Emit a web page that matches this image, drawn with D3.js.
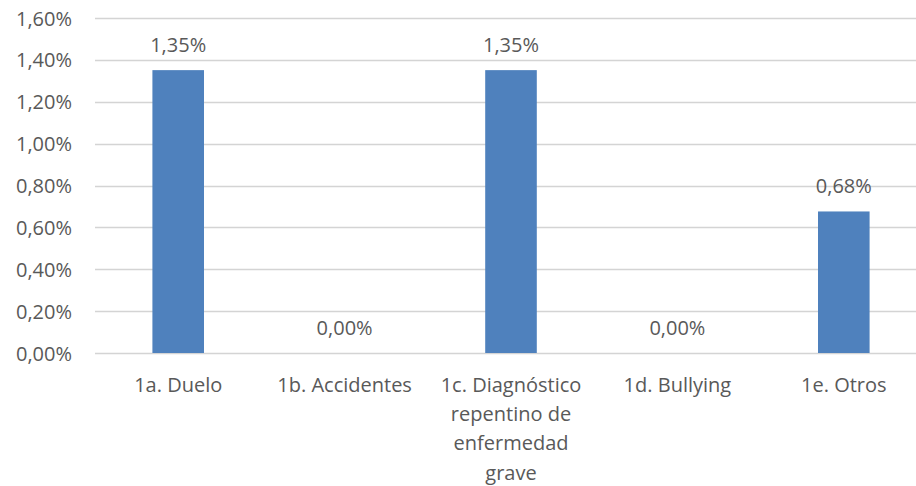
<!DOCTYPE html>
<html><head><meta charset="utf-8">
<script src="https://cdn.jsdelivr.net/npm/d3@7"></script>
<style>body{margin:0;background:#fff}svg{display:block}</style>
</head><body>
<svg id="c" width="916" height="486"></svg>
<script>
const categories = [["1a. Duelo"],["1b. Accidentes"],["1c. Diagnóstico","repentino de","enfermedad","grave"],["1d. Bullying"],["1e. Otros"]];
const values = [1.351, 0, 1.351, 0, 0.676];
const yTicks = [0,0.2,0.4,0.6,0.8,1.0,1.2,1.4,1.6];

const svg = d3.select("#c");
const font = "'Open Sans', sans-serif";
const fmt = v => d3.format(".2f")(v).replace(".", ",") + "%";
const x = d3.scaleBand().domain(d3.range(categories.length)).range([95, 927]).paddingInner(0.69).paddingOuter(0.345);
const y = d3.scaleLinear().domain([0,1.6]).range([353,18]);

svg.append("g").selectAll("line").data(yTicks).join("line")
  .attr("x1",95).attr("x2",927).attr("y1",d=>Math.round(y(d))+0.5).attr("y2",d=>Math.round(y(d))+0.5)
  .attr("stroke","#d4d4d4").attr("stroke-width",1.5);

const yAxis = d3.axisLeft(y).tickValues(yTicks).tickFormat(fmt).tickSize(0).tickPadding(0);
const ya = svg.append("g").attr("transform","translate(72,0)").call(yAxis);
ya.select(".domain").remove();
ya.selectAll("text").attr("font-family",font).attr("font-size",20).attr("fill","#595959").attr("dy","0.35em");

svg.append("g").selectAll("rect").data(values).join("rect")
  .attr("x",(d,i)=>x(i)).attr("width",x.bandwidth())
  .attr("y",d=>y(d)).attr("height",d=>y(0)-y(d)).attr("fill","#4f81bd");

svg.append("g").selectAll("text").data(values).join("text")
  .attr("x",(d,i)=>x(i)+x.bandwidth()/2).attr("y",d=>y(d)-18)
  .attr("text-anchor","middle").attr("font-family",font).attr("font-size",20).attr("fill","#595959")
  .text(d=>fmt(d));

const xAxis = d3.axisBottom(x).tickSize(0).tickFormat(()=>"");
const xa = svg.append("g").attr("transform","translate(0,353)").call(xAxis);
xa.select(".domain").remove();
xa.selectAll(".tick").each(function(i){
  const t = d3.select(this).append("text").attr("text-anchor","middle").attr("font-family",font)
    .attr("font-size",20).attr("fill","#595959");
  categories[i].forEach((l,k)=>t.append("tspan").attr("x",0).attr("y",39+k*29.2).text(l));
});
</script>
</body></html>
